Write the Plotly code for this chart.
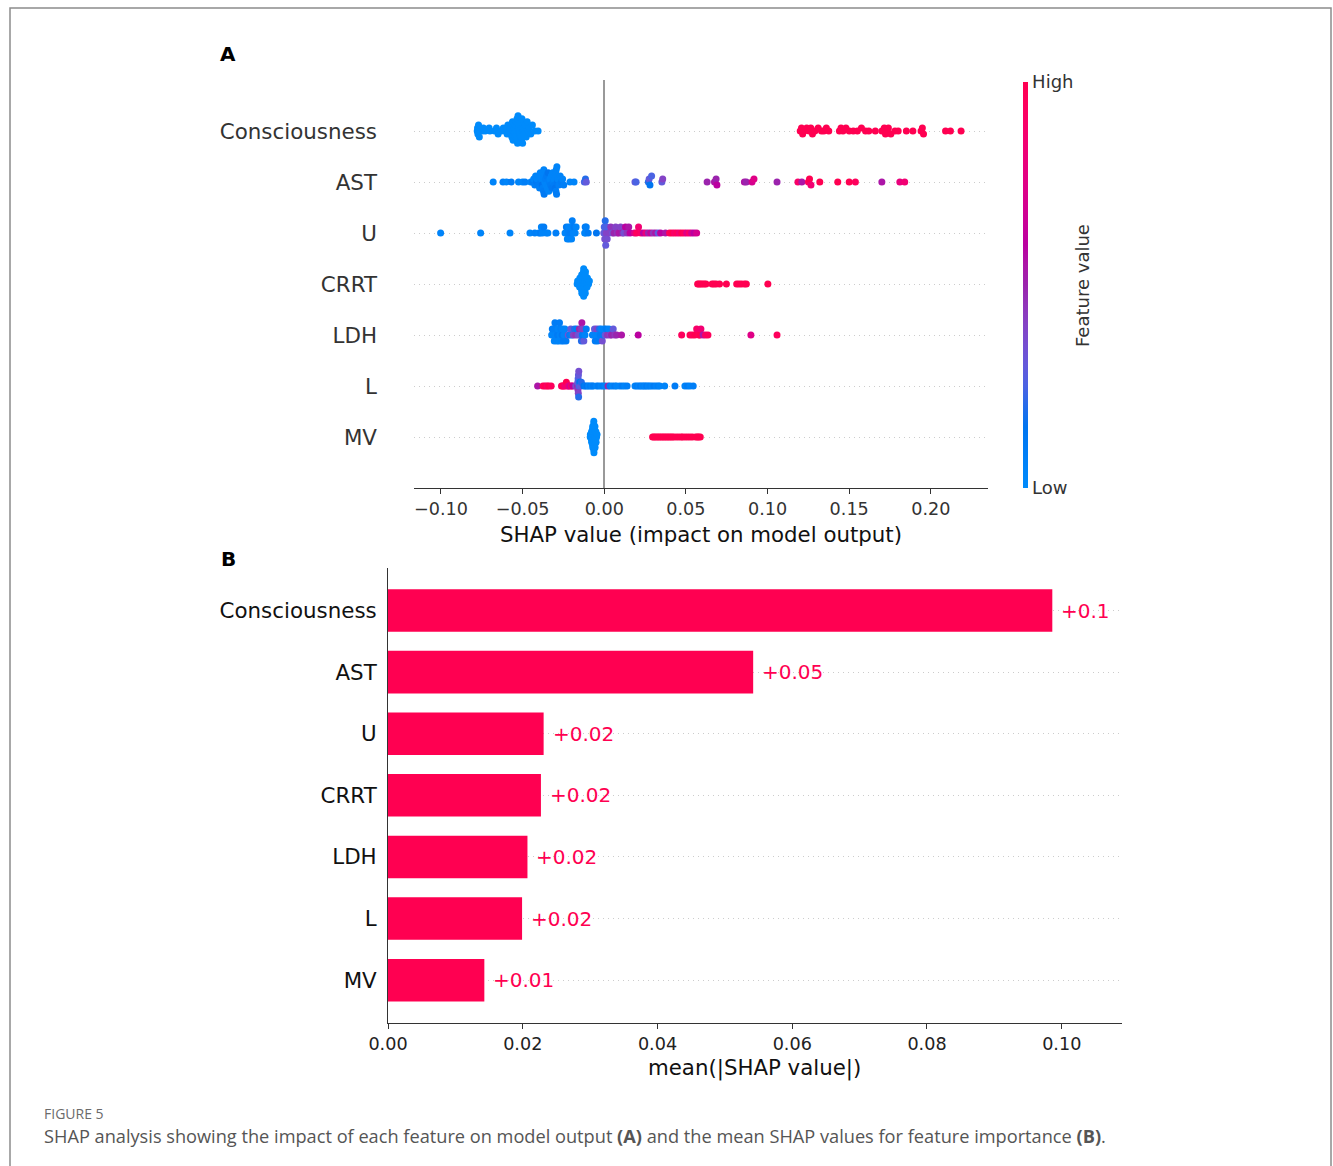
import math
import numpy as np
import plotly.graph_objects as go

# ---------------- data ----------------
features = ["Consciousness", "AST", "U", "CRRT", "LDH", "L", "MV"]

# Panel A: SHAP values per feature (binary features split into low/high groups)
cons_low = [-0.0778, -0.0776, -0.0774, -0.0770, -0.0765, -0.0745, -0.0740, -0.0728,
            -0.0705, -0.0700, -0.0672, -0.0660, -0.0650, -0.0630, -0.0618, -0.0610,
            -0.0600, -0.0595, -0.0590, -0.0584, -0.0578, -0.0574, -0.0570, -0.0566,
            -0.0562, -0.0558, -0.0555, -0.0552, -0.0549, -0.0546, -0.0543, -0.0540,
            -0.0537, -0.0534, -0.0531, -0.0528, -0.0525, -0.0522, -0.0519, -0.0516,
            -0.0513, -0.0510, -0.0507, -0.0504, -0.0500, -0.0496, -0.0492, -0.0488,
            -0.0484, -0.0478, -0.0472, -0.0466, -0.0460, -0.0450, -0.0440, -0.0425, -0.0405]
cons_high = [0.1200, 0.1208, 0.1215, 0.1225, 0.1240, 0.1255, 0.1265, 0.1275, 0.1290,
             0.1310, 0.1330, 0.1345, 0.1360, 0.1375, 0.1440, 0.1450, 0.1462, 0.1480,
             0.1500, 0.1525, 0.1550, 0.1575, 0.1600, 0.1620, 0.1660, 0.1700, 0.1715,
             0.1722, 0.1730, 0.1740, 0.1755, 0.1780, 0.1800, 0.1850, 0.1890, 0.1940,
             0.1948, 0.1955, 0.2090, 0.2120, 0.2185]

ast_x = [-0.0680, -0.0620, -0.0598, -0.0570, -0.0525, -0.0500, -0.0485,
         -0.0450, -0.0440, -0.0432, -0.0425, -0.0420, -0.0415, -0.0410, -0.0405,
         -0.0400, -0.0396, -0.0392, -0.0388, -0.0384, -0.0380, -0.0378, -0.0376,
         -0.0374, -0.0372, -0.0370, -0.0368, -0.0364, -0.0360, -0.0356, -0.0352,
         -0.0348, -0.0344, -0.0340, -0.0336, -0.0332, -0.0328, -0.0324, -0.0320,
         -0.0316, -0.0312, -0.0308, -0.0304, -0.0302, -0.0300, -0.0298, -0.0296,
         -0.0294, -0.0292, -0.0290, -0.0287, -0.0284, -0.0278, -0.0270, -0.0262,
         -0.0255, -0.0248, -0.0210, -0.0185, -0.0122, -0.0115, -0.0110,
         0.0188, 0.0195, 0.0270, 0.0275, 0.0280, 0.0290, 0.0353, 0.0358,
         0.0630, 0.0675, 0.0685, 0.0690, 0.0858, 0.0870, 0.0905, 0.0917, 0.1058,
         0.1186, 0.1210, 0.1250, 0.1257, 0.1266, 0.1320, 0.1430, 0.1500, 0.1538,
         0.1700, 0.1810, 0.1840]
ast_c = [0.05, 0.08, 0.05, 0.10, 0.05, 0.05, 0.08,
         0.05, 0.10, 0.05, 0.08, 0.05, 0.12, 0.05, 0.10,
         0.05, 0.08, 0.05, 0.10, 0.05, 0.15, 0.05, 0.08,
         0.05, 0.10, 0.05, 0.12, 0.05, 0.08, 0.05, 0.10,
         0.05, 0.15, 0.05, 0.08, 0.05, 0.10, 0.05, 0.12,
         0.05, 0.08, 0.05, 0.10, 0.05, 0.15, 0.05, 0.08,
         0.05, 0.10, 0.05, 0.12, 0.05, 0.08, 0.05, 0.10,
         0.05, 0.08, 0.05, 0.05, 0.25, 0.20, 0.30,
         0.30, 0.25, 0.20, 0.30, 0.15, 0.25, 0.30, 0.40,
         0.50, 0.55, 0.50, 0.60, 0.55, 0.50, 0.70, 0.75, 0.50,
         0.90, 0.55, 0.95, 1.00, 0.85, 1.00, 1.00, 1.00, 0.95,
         0.55, 0.80, 0.85]

u_x = [-0.1002, -0.0757, -0.0577, -0.0455, -0.0425, -0.0400, -0.0392, -0.0385,
       -0.0378, -0.0370, -0.0355, -0.0345, -0.0296,
       -0.0240, -0.0232, -0.0226, -0.0222, -0.0218, -0.0214, -0.0210, -0.0205,
       -0.0200, -0.0196, -0.0190, -0.0185, -0.0178, -0.0172,
       -0.0120, -0.0117, -0.0114, -0.0110, -0.0098, -0.0048,
       -0.0003, 0.0000, 0.0003, 0.0006, 0.0009, 0.0012, 0.0015, 0.0018,
       0.0030, 0.0040, 0.0050, 0.0060, 0.0070, 0.0080, 0.0090, 0.0100, 0.0110,
       0.0120, 0.0130, 0.0140, 0.0150, 0.0158,
       0.0185, 0.0198, 0.0210, 0.0225, 0.0240, 0.0255, 0.0270, 0.0285, 0.0300,
       0.0315, 0.0330, 0.0345,
       0.0375, 0.0400, 0.0415, 0.0430, 0.0445, 0.0460, 0.0475, 0.0490, 0.0505,
       0.0520, 0.0535, 0.0550, 0.0566]
u_c = [0.05, 0.05, 0.05, 0.05, 0.08, 0.05, 0.10, 0.05,
       0.05, 0.10, 0.05, 0.05, 0.08,
       0.05, 0.10, 0.05, 0.08, 0.05, 0.05, 0.10, 0.05,
       0.05, 0.08, 0.05, 0.10, 0.05, 0.05,
       0.05, 0.10, 0.05, 0.08, 0.10, 0.15,
       0.30, 0.25, 0.35, 0.20, 0.30, 0.40, 0.25, 0.35,
       0.40, 0.45, 0.35, 0.50, 0.40, 0.45, 0.55, 0.40, 0.50,
       0.35, 0.60, 0.45, 0.55, 0.60,
       0.75, 0.95, 0.85, 0.90, 0.60, 0.80, 0.50, 0.65, 0.45,
       0.55, 0.30, 0.60,
       0.55, 0.95, 1.00, 0.90, 0.95, 0.85, 1.00, 0.95, 0.75,
       0.90, 0.70, 0.60, 0.70]

crrt_low = [-0.0166, -0.0163, -0.0154, -0.0152, -0.0151, -0.0149,
            -0.0143, -0.0142, -0.0141, -0.0140, -0.0139, -0.0138, -0.0137,
            -0.0134, -0.0133, -0.0132, -0.0131, -0.0130, -0.0129, -0.0128,
            -0.0127, -0.0126, -0.0126, -0.0125,
            -0.0121, -0.0120, -0.0119, -0.0118, -0.0117, -0.0116, -0.0115,
            -0.0109, -0.0107, -0.0105, -0.0103, -0.0096, -0.0091]
crrt_high = [0.0572, 0.0580, 0.0590, 0.0600, 0.0612, 0.0623, 0.0660, 0.0672,
             0.0685, 0.0706, 0.0748, 0.0811, 0.0825, 0.0840, 0.0858, 0.0870, 0.1002]

ldh_x = [-0.0322, -0.0318, -0.0314, -0.0310, -0.0306, -0.0302, -0.0298, -0.0294,
         -0.0290, -0.0286, -0.0282, -0.0278, -0.0274, -0.0270, -0.0266, -0.0262,
         -0.0258, -0.0254, -0.0250, -0.0246, -0.0240, -0.0234,
         -0.0220, -0.0212, -0.0205, -0.0198, -0.0190, -0.0182, -0.0175, -0.0168,
         -0.0160, -0.0152, -0.0147, -0.0143, -0.0140, -0.0137, -0.0134, -0.0131,
         -0.0125, -0.0118, -0.0110,
         -0.0072, -0.0066, -0.0060, -0.0055, -0.0050, -0.0045, -0.0040, -0.0035,
         -0.0030, -0.0025, -0.0018, -0.0012, -0.0006, 0.0000, 0.0006, 0.0012,
         0.0020, 0.0028, 0.0036, 0.0045, 0.0055, 0.0065, 0.0076,
         0.0106, 0.0208,
         0.0474, 0.0525, 0.0540, 0.0555, 0.0566, 0.0580, 0.0586, 0.0592, 0.0605,
         0.0620, 0.0635, 0.0898, 0.1058]
ldh_c = [0.05, 0.10, 0.05, 0.08, 0.05, 0.10, 0.05, 0.08,
         0.05, 0.10, 0.05, 0.05, 0.10, 0.05, 0.08, 0.05,
         0.12, 0.05, 0.10, 0.05, 0.05, 0.10,
         0.35, 0.10, 0.30, 0.05, 0.40, 0.20, 0.45, 0.10,
         0.35, 0.50, 0.30, 0.45, 0.20, 0.55, 0.10, 0.40,
         0.30, 0.05, 0.10,
         0.10, 0.05, 0.30, 0.10, 0.05, 0.40, 0.10, 0.05,
         0.20, 0.10, 0.05, 0.35, 0.10, 0.05, 0.30, 0.10,
         0.45, 0.05, 0.40, 0.50, 0.30, 0.45, 0.50,
         0.55, 0.60,
         0.95, 1.00, 0.95, 1.00, 0.90, 0.95, 1.00, 0.85, 0.55,
         0.90, 0.95, 0.75, 0.95]

l_x = [-0.0408, -0.0375, -0.0362, -0.0350, -0.0340, -0.0325,
       -0.0262, -0.0255, -0.0248, -0.0240, -0.0232, -0.0225, -0.0218, -0.0210,
       -0.0200, -0.0192,
       -0.0176, -0.0170, -0.0163, -0.0162, -0.0161, -0.0160, -0.0159, -0.0158,
       -0.0157, -0.0156, -0.0155, -0.0150, -0.0145, -0.0140,
       -0.0125, -0.0115, -0.0105, -0.0095, -0.0085, -0.0075, -0.0067,
       -0.0047, -0.0035, -0.0020, -0.0008, 0.0005, 0.0023, 0.0035, 0.0050,
       0.0065, 0.0076, 0.0095, 0.0110, 0.0125, 0.0140,
       0.0188, 0.0200, 0.0212, 0.0222, 0.0232, 0.0242, 0.0250, 0.0260, 0.0270,
       0.0280, 0.0292, 0.0305, 0.0318, 0.0330, 0.0340,
       0.0370, 0.0433, 0.0494, 0.0510, 0.0525, 0.0545]
l_c = [0.55, 0.95, 1.00, 0.90, 1.00, 0.95,
       0.90, 1.00, 0.95, 0.85, 1.00, 0.90, 0.80, 0.70,
       0.95, 0.60,
       0.45, 0.35, 0.50, 0.30, 0.45, 0.25, 0.40, 0.30,
       0.20, 0.35, 0.25, 0.15, 0.30, 0.20,
       0.15, 0.10, 0.15, 0.05, 0.10, 0.05, 0.10,
       0.05, 0.10, 0.05, 0.10, 0.05, 0.50, 0.10, 0.05,
       0.10, 0.05, 0.05, 0.10, 0.05, 0.08,
       0.05, 0.10, 0.05, 0.10, 0.05, 0.08, 0.05, 0.10, 0.05,
       0.08, 0.05, 0.10, 0.05, 0.08, 0.05,
       0.05, 0.10, 0.05, 0.10, 0.05, 0.08]

mv_low = [-0.0086, -0.0085,
          -0.0081, -0.0080, -0.0079, -0.0078, -0.0077,
          -0.0075, -0.0074, -0.0074, -0.0073, -0.0073, -0.0072, -0.0072, -0.0071, -0.0070,
          -0.0068, -0.0068, -0.0067, -0.0067, -0.0066, -0.0066, -0.0066, -0.0065,
          -0.0065, -0.0064, -0.0064, -0.0064, -0.0063,
          -0.0062, -0.0061, -0.0060, -0.0060, -0.0059, -0.0059, -0.0058, -0.0057, -0.0056,
          -0.0055, -0.0053, -0.0052, -0.0051, -0.0050,
          -0.0047, -0.0044]
mv_high = [0.0296, 0.0305, 0.0315, 0.0325, 0.0335, 0.0345, 0.0355, 0.0365, 0.0375,
           0.0385, 0.0395, 0.0405, 0.0415, 0.0425, 0.0440, 0.0455, 0.0470, 0.0480,
           0.0495, 0.0510, 0.0525, 0.0540, 0.0560, 0.0570, 0.0578, 0.0588]

# Panel B: mean(|SHAP value|)
mean_abs = [0.0986, 0.0542, 0.0231, 0.0227, 0.0207, 0.0199, 0.0143]

x_ticks_a = [-0.10, -0.05, 0.00, 0.05, 0.10, 0.15, 0.20]
x_tick_text_a = ["\u22120.10", "\u22120.05", "0.00", "0.05", "0.10", "0.15", "0.20"]
x_ticks_b = [0.00, 0.02, 0.04, 0.06, 0.08, 0.10]
x_tick_text_b = ["0.00", "0.02", "0.04", "0.06", "0.08", "0.10"]

# ---------------- helpers ----------------
W, H = 1333, 1166
def px(x):
    return x / W
def py(y):
    return 1 - y / H

def swarm_offsets(vals, row_height=0.4, nbins=100):
    v = np.asarray(vals, dtype=float)
    quant = np.round(nbins * (v - v.min()) / (v.max() - v.min() + 1e-8))
    inds = np.argsort(quant, kind="stable")
    ys = np.zeros(len(v))
    layer, last = 0, None
    for i in inds:
        if quant[i] != last:
            layer = 0
        ys[i] = math.ceil(layer / 2) * ((layer % 2) * 2 - 1)
        layer += 1
        last = quant[i]
    ys *= 0.9 * (row_height / np.max(ys + 1))
    return ys

def lch_to_rgb(L, C, Hh):
    a = C * math.cos(Hh)
    b = C * math.sin(Hh)
    fy = (L + 16) / 116
    fx = fy + a / 500
    fz = fy - b / 200
    def finv(t):
        return t ** 3 if t ** 3 > 0.008856 else (t - 16 / 116) / 7.787
    X, Y, Z = 0.95047 * finv(fx), finv(fy), 1.08883 * finv(fz)
    r = 3.2406 * X - 1.5372 * Y - 0.4986 * Z
    g = -0.9689 * X + 1.8758 * Y + 0.0415 * Z
    bl = 0.0557 * X - 0.2040 * Y + 1.0570 * Z
    def gam(c):
        c = max(0.0, min(1.0, c))
        return 1.055 * c ** (1 / 2.4) - 0.055 if c > 0.0031308 else 12.92 * c
    return "rgb(%d,%d,%d)" % tuple(int(round(255 * gam(c))) for c in (r, g, bl))

# shap red_blue colormap
blue_lch = (54.0, 70.0, 4.6588)
red_lch = (54.0, 90.0, 0.35470565 + 2 * np.pi)
l_mid = 40.0
nst = 21
colorscale = []
for k in range(nst):
    t = k / (nst - 1)
    L = blue_lch[0] + (l_mid - blue_lch[0]) * (t / 0.5) if t <= 0.5 else l_mid + (red_lch[0] - l_mid) * ((t - 0.5) / 0.5)
    C = blue_lch[1] + (red_lch[1] - blue_lch[1]) * t
    Hh = blue_lch[2] + (red_lch[2] - blue_lch[2]) * t
    colorscale.append([t, lch_to_rgb(L, C, Hh)])

# ---------------- assemble swarm ----------------
rows = [
    (cons_low + cons_high, [0.0] * len(cons_low) + [1.0] * len(cons_high)),
    (ast_x, ast_c),
    (u_x, u_c),
    (crrt_low + crrt_high, [0.0] * len(crrt_low) + [1.0] * len(crrt_high)),
    (ldh_x, ldh_c),
    (l_x, l_c),
    (mv_low + mv_high, [0.0] * len(mv_low) + [1.0] * len(mv_high)),
]
n = len(features)
all_x, all_y, all_c = [], [], []
for i, (xs, cs) in enumerate(rows):
    pos = n - 1 - i
    offs = swarm_offsets(xs)
    all_x += list(xs)
    all_y += list(pos + offs)
    all_c += list(cs)

positions = [n - 1 - i for i in range(n)]

FONT = "DejaVu Sans"
RED = "#FF0051"

fig = go.Figure()
fig.add_trace(go.Scatter(
    x=all_x, y=all_y, mode="markers", xaxis="x", yaxis="y",
    marker=dict(size=7, color=all_c, colorscale=colorscale, cmin=0, cmax=1,
                line=dict(width=0), opacity=1,
                showscale=True,
                colorbar=dict(x=px(1023), xanchor="left", y=py(285), yanchor="middle",
                              len=406 / H, lenmode="fraction", thickness=5,
                              outlinewidth=0, tickvals=[0, 1], ticktext=["Low", "High"],
                              ticks="", tickfont=dict(family=FONT, size=18, color="#333333"),
                              xpad=0, ypad=0)),
    hoverinfo="skip", showlegend=False))

fig.add_trace(go.Bar(
    x=mean_abs, y=positions, orientation="h", xaxis="x2", yaxis="y2",
    width=0.69, marker=dict(color=RED, line=dict(width=0)), showlegend=False,
    hoverinfo="skip"))

def fmt(v):
    s = "%+0.2f" % v
    s = s.rstrip("0").rstrip(".")
    return s

annotations = []
for v, p in zip(mean_abs, positions):
    annotations.append(dict(x=v, y=p, xref="x2", yref="y2", text=fmt(v), showarrow=False,
                            xanchor="left", yanchor="middle", xshift=7,
                            font=dict(family=FONT, size=20, color=RED)))

annotations += [
    dict(x=px(228), y=py(54), xref="paper", yref="paper", text="<b>A</b>", showarrow=False,
         xanchor="center", yanchor="middle", font=dict(family=FONT, size=20, color="#000")),
    dict(x=px(228), y=py(559), xref="paper", yref="paper", text="<b>B</b>", showarrow=False,
         xanchor="center", yanchor="middle", font=dict(family=FONT, size=20, color="#000")),
    dict(x=px(701), y=py(534), xref="paper", yref="paper",
         text="SHAP value (impact on model output)", showarrow=False,
         xanchor="center", yanchor="middle", font=dict(family=FONT, size=21.3, color="#111")),
    dict(x=px(754.5), y=py(1068), xref="paper", yref="paper",
         text="mean(|SHAP value|)", showarrow=False,
         xanchor="center", yanchor="middle", font=dict(family=FONT, size=21.3, color="#111")),
    dict(x=px(1083), y=py(286), xref="paper", yref="paper", text="Feature value",
         showarrow=False, textangle=-90, xanchor="center", yanchor="middle",
         font=dict(family=FONT, size=18, color="#333333")),
    dict(x=px(42), y=py(1113), xref="paper", yref="paper", text="FIGURE 5",
         showarrow=False, xanchor="left", yanchor="middle",
         font=dict(family="Open Sans", size=14, color="#6b6b6b")),
    dict(x=px(42), y=py(1136), xref="paper", yref="paper",
         text="SHAP analysis showing the impact of each feature on model output <b>(A)</b> and the mean SHAP values for feature importance <b>(B)</b>.",
         showarrow=False, xanchor="left", yanchor="middle",
         font=dict(family="Open Sans", size=18.2, color="#555555")),
]

fig.update_layout(
    width=W, height=H, margin=dict(l=0, r=0, t=0, b=0, pad=0, autoexpand=False),
    paper_bgcolor="white", plot_bgcolor="white",
    font=dict(family=FONT),
    xaxis=dict(domain=[px(414), px(988)], range=[-0.1165, 0.235], anchor="y",
               automargin=False,
               tickvals=x_ticks_a, ticktext=x_tick_text_a, ticks="outside", ticklen=5,
               tickcolor="#333333", showline=True, linecolor="#333333", linewidth=1,
               zeroline=True, zerolinecolor="#999999", zerolinewidth=2, showgrid=False,
               tickfont=dict(family=FONT, size=17.6, color="#333333")),
    yaxis=dict(domain=[py(488), py(80)], range=[-1, 7], anchor="x",
               automargin=False,
               tickvals=positions, ticktext=features, ticks="", showline=False,
               zeroline=False, showgrid=True, gridcolor="#cccccc", gridwidth=1,
               griddash="1px,4px", ticklabelstandoff=36,
               tickfont=dict(family=FONT, size=21.4, color="#333333")),
    xaxis2=dict(domain=[px(388), px(1121.7)], range=[0, 0.1089], anchor="y2",
                automargin=False,
                tickvals=x_ticks_b, ticktext=x_tick_text_b, ticks="outside", ticklen=5,
                tickcolor="#333333", showline=True, linecolor="#333333", linewidth=1,
                zeroline=False, showgrid=False,
                tickfont=dict(family=FONT, size=17.6, color="#222222")),
    yaxis2=dict(domain=[py(1022.7), py(568)], range=[-0.69, 6.69], anchor="x2",
                automargin=False,
                tickvals=positions, ticktext=features, ticks="", showline=True,
                linecolor="#333333", linewidth=1, zeroline=False, showgrid=True,
                gridcolor="#cccccc", gridwidth=1, griddash="1px,4px",
                ticklabelstandoff=6,
                tickfont=dict(family=FONT, size=21.4, color="#111111")),
    annotations=annotations,
    shapes=[dict(type="rect", xref="paper", yref="paper", x0=px(10), x1=px(1331),
                 y0=-0.02, y1=py(8), line=dict(color="#8c8c8c", width=1.5),
                 fillcolor="rgba(0,0,0,0)", layer="below")],
)

fig.write_html("out.html")
